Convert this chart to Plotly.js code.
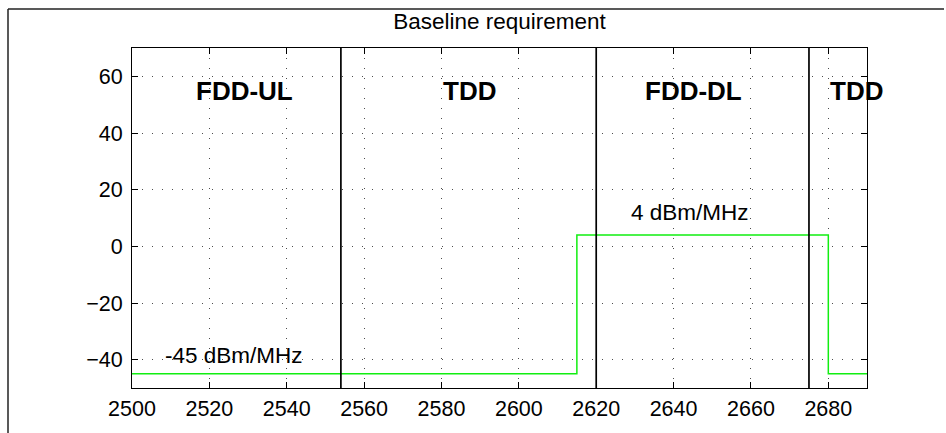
<!DOCTYPE html>
<html>
<head>
<meta charset="utf-8">
<script src="https://cdn.plot.ly/plotly-3.0.1.min.js"></script>
<style>
  html, body { margin: 0; padding: 0; background: #fff; overflow: hidden; }
  #chart { width: 946px; height: 433px; overflow: hidden; }
</style>
</head>
<body>
<div id="chart"></div>
<script>
// Emission mask (dBm/MHz) across the 2.6 GHz band
const maskFreq  = [2500, 2615, 2615, 2680, 2680, 2690];
const maskLevel = [-45, -45, 4, 4, -45, -45];

// Band boundaries (MHz)
const bandEdges = [2554, 2620, 2675];

// Band names and where they are written (MHz, dBm/MHz)
const bandNames = ['FDD-UL', 'TDD', 'FDD-DL', 'TDD'];
const bandNameFreq = [2516, 2580, 2632, 2680];
const bandNameLevel = [55, 55, 55, 55];

// Level labels
const levelText = ['-45 dBm/MHz', '4 dBm/MHz'];
const levelTextFreq = [2508, 2628.5];
const levelTextLevel = [-38.5, 12];

// Axes
const xRange = [2500, 2690];
const yRange = [-50, 70];
const xTicks = [2500, 2520, 2540, 2560, 2580, 2600, 2620, 2640, 2660, 2680];
const yTicks = [-40, -20, 0, 20, 40, 60];

const FONT = 'Liberation Sans, Arial, Helvetica, sans-serif';

// boundary lines as one broken trace
const edgeX = [], edgeY = [];
bandEdges.forEach(f => { edgeX.push(f, f, null); edgeY.push(yRange[0], yRange[1], null); });

const traces = [
  {
    x: maskFreq, y: maskLevel, type: 'scatter', mode: 'lines',
    line: { color: '#11ee11', width: 1.5, shape: 'linear' },
    hoverinfo: 'skip'
  },
  {
    x: edgeX, y: edgeY, type: 'scatter', mode: 'lines',
    line: { color: '#000000', width: 1.7 },
    hoverinfo: 'skip'
  }
];

const annotations = [];
bandNames.forEach((t, i) => annotations.push({
  x: bandNameFreq[i], y: bandNameLevel[i], xref: 'x', yref: 'y',
  text: '<b>' + t + '</b>', showarrow: false, xanchor: 'left', yanchor: 'middle',
  font: { family: FONT, size: 26, color: '#000' }
}));
levelText.forEach((t, i) => annotations.push({
  x: levelTextFreq[i], y: levelTextLevel[i], xref: 'x', yref: 'y',
  text: t, showarrow: false, xanchor: 'left', yanchor: 'middle',
  font: { family: FONT, size: 22.5, color: '#000' }
}));

const axisCommon = {
  showline: true, linecolor: '#000', linewidth: 1, mirror: 'ticks',
  ticks: 'inside', ticklen: 6, tickcolor: '#000', tickwidth: 1,
  showgrid: true, gridcolor: 'rgba(0,0,0,0.7)', gridwidth: 1, griddash: '1px,9px',
  zeroline: false,
  tickfont: { family: FONT, size: 21.5, color: '#000' }
};

// figure frame: left and top edges (paper units relative to the plot area)
const frameLeft = (8 - 132) / 735;
const frameTop = (388 - 9) / 340;

const layout = {
  width: 946, height: 433,
  margin: { l: 132, r: 79, t: 48, b: 45, pad: 0 },
  paper_bgcolor: '#fff', plot_bgcolor: '#fff',
  showlegend: false,
  title: {
    text: 'Baseline requirement',
    font: { family: FONT, size: 22.5, color: '#000' },
    x: 0.5, xref: 'paper', xanchor: 'center',
    y: 1 - 21 / 433, yref: 'container', yanchor: 'middle'
  },
  xaxis: Object.assign({}, axisCommon, {
    range: xRange, tickmode: 'array', tickvals: xTicks,
    ticklabelstandoff: 1
  }),
  yaxis: Object.assign({}, axisCommon, {
    range: yRange, tickmode: 'array', tickvals: yTicks,
    ticklabelstandoff: 4
  }),
  annotations: annotations,
  shapes: [
    {
      type: 'line', xref: 'paper', yref: 'paper',
      x0: frameLeft, x1: frameLeft, y0: frameTop, y1: (388 - 433) / 340,
      line: { color: '#222', width: 1.5 }, layer: 'below'
    },
    {
      type: 'line', xref: 'paper', yref: 'paper',
      x0: frameLeft, x1: (944 - 132) / 735, y0: frameTop, y1: frameTop,
      line: { color: '#222', width: 1.5 }, layer: 'below'
    }
  ]
};

Plotly.newPlot('chart', traces, layout, { displayModeBar: false, staticPlot: true });
</script>
</body>
</html>
